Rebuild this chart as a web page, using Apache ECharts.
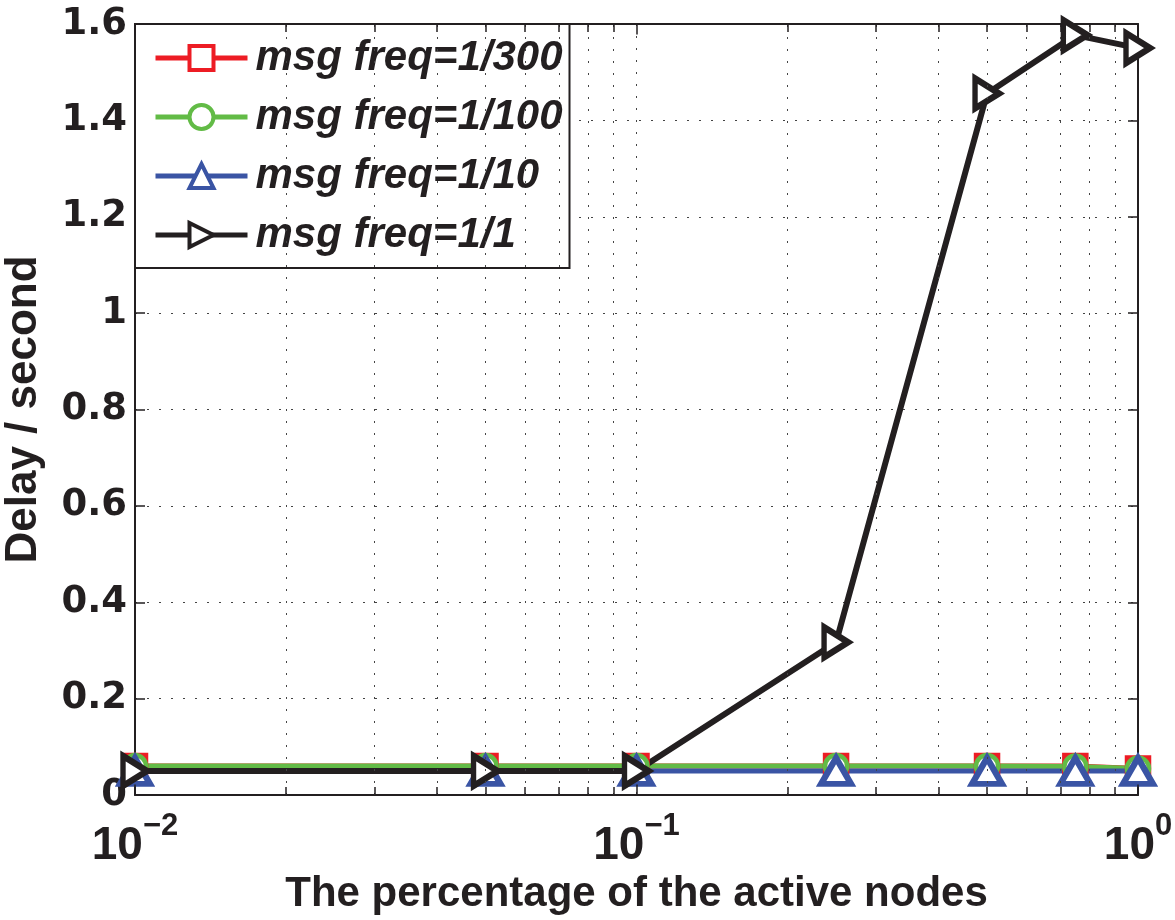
<!DOCTYPE html>
<html>
<head>
<meta charset="utf-8">
<script src="https://cdn.jsdelivr.net/npm/echarts@6/dist/echarts.min.js"></script>
<style>
html,body{margin:0;padding:0;background:#fff;}
#chart{width:1175px;height:920px;}
</style>
</head>
<body>
<div id="chart"></div>
<script>
// ---- data ----
const xValues = [0.01, 0.05, 0.1, 0.25, 0.5, 0.75, 1];
const freq300 = [0.06, 0.06, 0.06, 0.06, 0.06, 0.06, 0.055];
const freq100 = [0.06, 0.06, 0.06, 0.06, 0.06, 0.059, 0.055];
const freq10  = [0.05, 0.05, 0.05, 0.05, 0.05, 0.05, 0.05];
const freq1   = [0.05, 0.05, 0.05, 0.317, 1.456, 1.577, 1.55];
const seriesNames = ['msg freq=1/300', 'msg freq=1/100', 'msg freq=1/10', 'msg freq=1/1'];
const xTickValues = [0.01, 0.1, 1];
const xTickExponents = ['\u22122', '\u22121', '0'];
const yTickLabels = ['0', '0.2', '0.4', '0.6', '0.8', '1', '1.2', '1.4', '1.6'];
const xMinorValues = [0.02,0.03,0.04,0.05,0.06,0.07,0.08,0.09,0.2,0.3,0.4,0.5,0.6,0.7,0.8,0.9];

const yMin = 0, yMax = 1.6;
const tickMinorLen = 0.0166, tickMajorLen = 0.022;

function pairs(arr) { return xValues.map((x, i) => [x, arr[i]]); }

const gridLines = xMinorValues.map(v => ({ xAxis: v }));
const tickSegs = [];
xMinorValues.forEach(v => {
  tickSegs.push([{ coord: [v, yMin] }, { coord: [v, yMin + tickMinorLen] }]);
  tickSegs.push([{ coord: [v, yMax] }, { coord: [v, yMax - tickMinorLen] }]);
});
xTickValues.forEach(v => {
  tickSegs.push([{ coord: [v, yMin] }, { coord: [v, yMin + tickMajorLen] }]);
  tickSegs.push([{ coord: [v, yMax] }, { coord: [v, yMax - tickMajorLen] }]);
});

const chart = echarts.init(document.getElementById('chart'), null, { renderer: 'canvas' });

const FONT = 'Liberation Sans, Arial, sans-serif';
const option = {
  backgroundColor: '#fff',
  animation: false,
  grid: { left: 135, right: 37, top: 24, bottom: 125, containLabel: false, outerBoundsMode: 'none' },
  legend: {
    left: 135, top: 24,
    orient: 'vertical',
    backgroundColor: '#fff',
    borderColor: '#231f20', borderWidth: 2,
    padding: [13, 7, 12, 18],
    itemGap: 17,
    itemWidth: 92, itemHeight: 30,
    data: seriesNames,
    lineStyle: { width: 5 },
    itemStyle: { borderWidth: 4 },
    textStyle: {
      fontFamily: FONT,
      fontWeight: 'bold', fontStyle: 'italic',
      fontSize: 42, lineHeight: 40, color: '#231f20',
      padding: [0, 0, 0, 3]
    }
  },
  xAxis: [{
    type: 'log', logBase: 10, min: 0.01, max: 1,
    position: 'bottom',
    name: 'The percentage of the active nodes',
    nameLocation: 'middle', nameGap: 73,
    nameTextStyle: { fontFamily: FONT, fontWeight: 'bold', fontSize: 42, color: '#231f20' },
    axisLine: { show: true, onZero: false, lineStyle: { color: '#231f20', width: 2 } },
    axisTick: { show: false },
    splitLine: { show: true, lineStyle: { color: '#444', width: 1, type: [2, 10] } },
    axisLabel: {
      margin: 16,
      formatter: function (v) {
        const idx = xTickValues.findIndex(t => Math.abs(Math.log10(t) - Math.log10(v)) < 1e-6);
        if (idx < 0) return '';
        return '{b|10}{s|' + xTickExponents[idx] + '}';
      },
      rich: {
        b: { fontFamily: FONT, fontWeight: 'bold', fontSize: 46, color: '#231f20', lineHeight: 58, verticalAlign: 'bottom' },
        s: { fontFamily: FONT, fontWeight: 'bold', fontSize: 31, color: '#231f20', lineHeight: 30, verticalAlign: 'top' }
      }
    }
  }, {
    type: 'log', logBase: 10, min: 0.01, max: 1,
    position: 'top',
    axisLine: { show: true, onZero: false, lineStyle: { color: '#231f20', width: 2 } },
    axisTick: { show: false },
    axisLabel: { show: false },
    splitLine: { show: false }
  }],
  yAxis: [{
    type: 'value', min: yMin, max: yMax, interval: 0.2,
    position: 'left',
    name: 'Delay / second',
    nameLocation: 'middle', nameGap: 89, nameRotate: 90,
    nameTextStyle: { fontFamily: FONT, fontWeight: 'bold', fontSize: 44, color: '#231f20' },
    axisLine: { show: true, lineStyle: { color: '#231f20', width: 2 } },
    axisTick: { show: true, inside: true, length: 10, lineStyle: { color: '#231f20', width: 1.5 } },
    splitLine: { show: true, lineStyle: { color: '#444', width: 1, type: [2, 10] } },
    axisLabel: {
      margin: 8,
      fontFamily: 'DejaVu Sans, sans-serif', fontWeight: 'bold', fontSize: 37, color: '#231f20',
      formatter: function (v) { return yTickLabels[Math.round(v / 0.2)] || ''; }
    }
  }, {
    type: 'value', min: yMin, max: yMax, interval: 0.2,
    position: 'right',
    axisLine: { show: true, lineStyle: { color: '#231f20', width: 2 } },
    axisTick: { show: true, inside: true, length: 10, lineStyle: { color: '#231f20', width: 1.5 } },
    axisLabel: { show: false },
    splitLine: { show: false }
  }],
  series: [
    {
      name: '_grid', type: 'line', data: [], silent: true,
      markLine: {
        silent: true, symbol: 'none', label: { show: false }, animation: false,
        lineStyle: { color: '#444', width: 1, type: [2, 10] },
        emphasis: { disabled: true },
        data: gridLines
      }
    },
    {
      name: '_ticks', type: 'line', data: [], silent: true,
      markLine: {
        silent: true, symbol: 'none', label: { show: false }, animation: false,
        lineStyle: { color: '#231f20', width: 1.5, type: 'solid' },
        emphasis: { disabled: true },
        data: tickSegs
      }
    },
    {
      name: seriesNames[0], type: 'line', data: pairs(freq300),
      symbol: 'rect', symbolSize: 22,
      lineStyle: { color: '#ed1c24', width: 5 },
      itemStyle: { color: '#fff', borderColor: '#ed1c24', borderWidth: 4.5 }
    },
    {
      name: seriesNames[1], type: 'line', data: pairs(freq100),
      symbol: 'circle', symbolSize: 22,
      lineStyle: { color: '#62bb46', width: 5 },
      itemStyle: { color: '#fff', borderColor: '#62bb46', borderWidth: 4.5 }
    },
    {
      name: seriesNames[2], type: 'line', data: pairs(freq10),
      symbol: 'triangle', symbolSize: [30, 26],
      lineStyle: { color: '#3a54a4', width: 5 },
      itemStyle: { color: '#fff', borderColor: '#3a54a4', borderWidth: 6 }
    },
    {
      name: seriesNames[3], type: 'line', data: pairs(freq1),
      symbol: 'triangle', symbolSize: [30, 24], symbolRotate: -90,
      lineStyle: { color: '#231f20', width: 6 },
      itemStyle: { color: '#fff', borderColor: '#231f20', borderWidth: 6 }
    }
  ]
};
chart.setOption(option);
</script>
</body>
</html>
